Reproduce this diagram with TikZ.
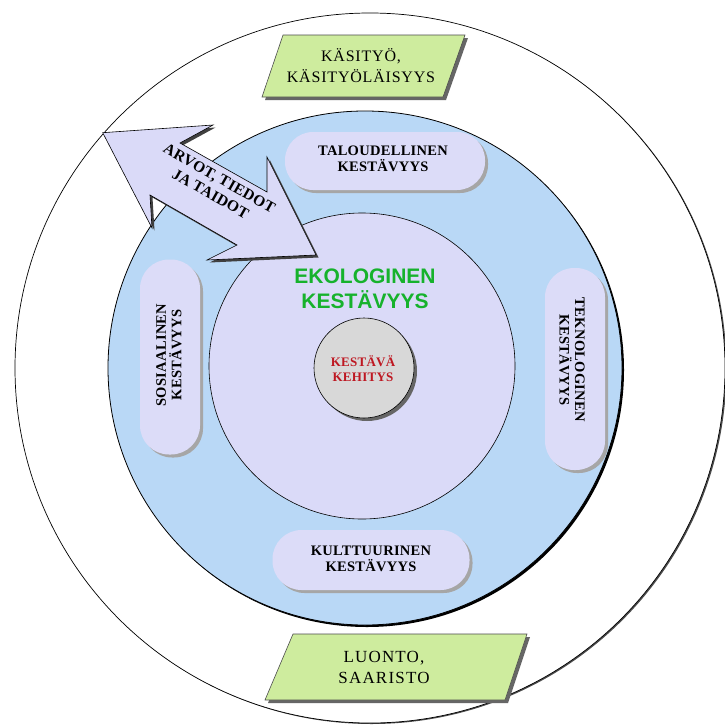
\documentclass[tikz,border=0pt]{standalone}
\usepackage{fontspec}
\setmainfont{Liberation Serif}
\newfontfamily\arialf{Liberation Sans}
\newfontfamily\spacedserif[LetterSpace=5]{Liberation Serif}
\newfontfamily\lightspaced[LetterSpace=2]{Liberation Serif}
\newfontfamily\widserif[LetterSpace=7]{Liberation Serif}
\usetikzlibrary{shadows}
\definecolor{bluefill}{RGB}{185,216,246}
\definecolor{lavfill}{RGB}{218,218,248}
\definecolor{pillfill}{RGB}{220,220,248}
\definecolor{greyfill}{RGB}{216,216,216}
\definecolor{greenfill}{RGB}{206,236,158}
\definecolor{ekogreen}{RGB}{22,178,44}
\definecolor{kehred}{RGB}{190,24,34}
\tikzset{
  shad/.style={drop shadow={shadow xshift=3pt,shadow yshift=-3pt,fill=black!60,opacity=1}},
  pillshad/.style={drop shadow={shadow xshift=3pt,shadow yshift=-3pt,fill=black!35,opacity=1}},
  pillbox/.style={draw=none,fill=pillfill,pillshad,inner sep=0pt},
  pilltext/.style={font=\lightspaced\fontsize{14.5}{15.5}\selectfont\bfseries,align=center,inner sep=0pt},
  paratext/.style={font=\spacedserif\fontsize{16}{21}\selectfont,align=center,inner sep=0pt},
  para/.style={draw=black!70,line width=0.6pt,fill=greenfill,shad}
}
\begin{document}
\begin{tikzpicture}[x=1pt,y=-1pt]
\useasboundingbox[fill=white] (0,0) rectangle (725,728);
% circles
\node[circle,draw=black,line width=0.7pt,fill=white,minimum size=710pt,inner sep=0pt,
  drop shadow={shadow xshift=1.5pt,shadow yshift=-1pt,fill=black!70,opacity=1}] (outer) at (370,368) {};
\node[circle,draw=black,line width=0.8pt,fill=bluefill,minimum size=514pt,inner sep=0pt,
  drop shadow={shadow xshift=2pt,shadow yshift=-2pt,fill=black,opacity=1}] (blue) at (365,368) {};
\node[circle,draw=black,line width=0.6pt,fill=lavfill,minimum size=306pt,inner sep=0pt] (lav) at (362,366) {};
\node[circle,draw=black,line width=0.6pt,fill=greyfill,minimum size=100pt,inner sep=0pt,shad] (core) at (364,368) {};
% pills
\node[pillbox,minimum width=200pt,minimum height=58pt,rounded corners=28pt] (talp) at (385,161) {};
\node[pilltext] (talt) at (383,159) {TALOUDELLINEN\\KESTÄVYYS};
\node[pillbox,minimum width=197pt,minimum height=60pt,rounded corners=29pt] (kulp) at (371,560) {};
\node[pilltext] (kult) at (371,559) {KULTTUURINEN\\KESTÄVYYS};
\node[pillbox,minimum width=60pt,minimum height=195pt,rounded corners=29pt] (sosp) at (170,357) {};
\node[pilltext,rotate=90] (sost) at (169,355) {SOSIAALINEN\\KESTÄVYYS};
\node[pillbox,minimum width=60pt,minimum height=202pt,rounded corners=29pt] (tekp) at (575,369) {};
\node[pilltext,rotate=-90] (tekt) at (572,360) {TEKNOLOGINEN\\KESTÄVYYS};
% parallelograms
\draw[para] (283,35) -- (465,35) -- (443,97) -- (262,97) -- cycle;
\node[paratext] (kasi) at (361,66) {KÄSITYÖ,\\KÄSITYÖLÄISYYS};
\draw[para] (293,634) -- (527,634) -- (505,700) -- (265,700) -- cycle;
\node[font=\widserif\fontsize{17}{21}\selectfont,align=center,inner sep=0pt] (luon) at (384,667) {LUONTO,\\SAARISTO};
% centre texts
\node[font=\arialf\fontsize{21}{25}\selectfont\bfseries,text=ekogreen,align=center,inner sep=0pt] (eko) at (365,289) {EKOLOGINEN\\KESTÄVYYS};
\node[font=\lightspaced\fontsize{13}{15}\selectfont\bfseries,text=kehred,align=center,inner sep=0pt] (keh) at (363,369) {KESTÄVÄ\\KEHITYS};
% arrow
\draw[draw=black,line width=0.6pt,fill=lavfill,line join=miter,
  drop shadow={shadow xshift=2.5pt,shadow yshift=-2.5pt,fill=black!75,opacity=1}]
  (102.7,132.7) -- (213,125) -- (180,143) -- (267,192) -- (267,157) -- (316,255)
  -- (207,260) -- (237,245) -- (150,195) -- (152,228) -- cycle;
\node[font=\lightspaced\fontsize{15.5}{18}\selectfont\bfseries,align=center,inner sep=0pt,rotate=-29.5] (arvo) at (215,186) {ARVOT, TIEDOT\\JA TAIDOT};
\end{tikzpicture}
\end{document}
